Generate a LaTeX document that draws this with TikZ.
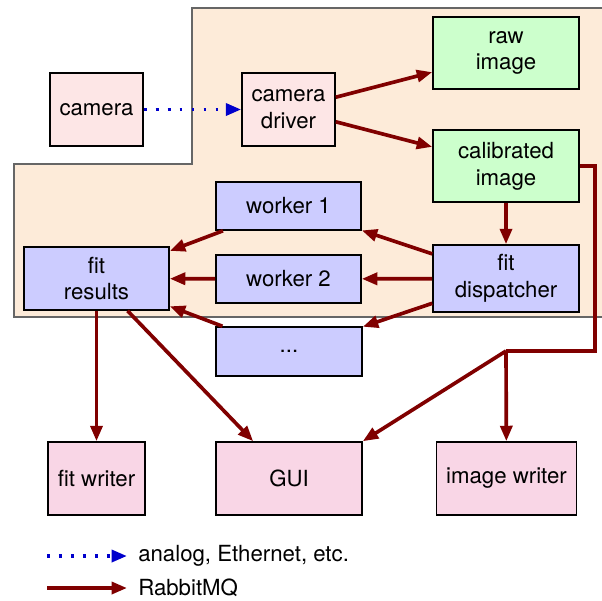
\documentclass[tikz,border=0pt]{standalone}
\usepackage{fontspec}
\setmainfont{TeX Gyre Heros}
\usetikzlibrary{arrows.meta}
\definecolor{mqred}{HTML}{800000}
\definecolor{analogblue}{HTML}{0000CC}
\definecolor{campink}{HTML}{FDE6E6}
\definecolor{outpink}{HTML}{F9D6E6}
\definecolor{imggreen}{HTML}{CCFFCC}
\definecolor{fitblue}{HTML}{CCCCFF}
\definecolor{hostbg}{HTML}{FDEBD9}
\tikzset{
  box/.style={draw, line width=1.1pt, align=center, inner sep=0pt,
    font=\fontsize{15.8}{19}\selectfont},
  hw/.style={box, fill=campink, minimum width=2.325cm, minimum height=1.825cm},
  img/.style={box, fill=imggreen, minimum width=3.65cm, minimum height=1.8cm},
  fitbox/.style={box, fill=fitblue, minimum width=3.625cm},
  sink/.style={box, fill=outpink, minimum height=1.825cm},
  mqline/.style={draw=mqred, line width=2.6pt},
  mq/.style={mqline, -{Triangle[length=11pt,width=8.5pt]}},
  analog/.style={draw=analogblue, line width=2.6pt, dash pattern=on 2pt off 6.5pt,
    -{Triangle[length=11pt,width=8.5pt]}},
  legend/.style={anchor=west, inner xsep=0.275cm, inner ysep=0pt,
    font=\fontsize{15.8}{19}\selectfont}
}
\begin{document}
\begin{tikzpicture}[x=0.025cm, y=-0.025cm]
\clip (0,0) rectangle (602,600);
% host machine
\draw[fill=hostbg, draw=black!60, line width=0.8pt]
  (192,8) -- (612,8) -- (612,317) -- (14,317) -- (14,164) -- (192,164) -- cycle;
\node[hw] (camera) at (96.5,109.5) {camera};
\node[hw] (driver) at (288.5,109.5) {camera\\driver};
\node[img] (raw) at (506,53) {raw\\image};
\node[img] (calib) at (506,166) {calibrated\\image};
\node[fitbox, minimum width=3.65cm, minimum height=1.675cm] (dispatcher) at (506,278.5) {fit\\dispatcher};
\node[fitbox, minimum height=1.2cm] (worker1) at (288.5,206) {worker 1};
\node[fitbox, minimum height=1.2cm] (worker2) at (288.5,279) {worker 2};
\node[fitbox, minimum width=3.65cm, minimum height=1.225cm] (workerN) at (289,351.5) {...};
\node[fitbox, minimum height=1.575cm] (results) at (96.5,278.5) {fit\\results};
\node[sink, minimum width=2.425cm] (fitwriter) at (96.5,478.5) {fit writer};
\node[sink, minimum width=3.65cm] (gui) at (289,478.5) {GUI};
\node[sink, minimum width=3.5cm] (imgwriter) at (506.5,478.5) {image writer};
\coordinate (turn) at (595,351);
\coordinate (split) at (506,351);
\draw[analog] (camera) -- (driver);
\draw[mq]  (driver) -- (raw);
\draw[mq]  (driver) -- (calib);
\draw[mq]  (calib) -- (dispatcher);
\draw[mq]  (dispatcher) -- (worker1);
\draw[mq]  (dispatcher) -- (worker2);
\draw[mq]  (dispatcher) -- (workerN);
\draw[mq]  (worker1) -- (results);
\draw[mq]  (worker2) -- (results);
\draw[mq]  (workerN) -- (results);
\draw[mq]  (results) -- (fitwriter);
\draw[mq]  (results) -- (gui);
\draw[mqline] (calib) -| (turn) -- (split);
\draw[mq]  (split) -- (imgwriter);
\draw[mq]  (split) -- (gui.north east);
% legend
\coordinate (analogstart) at (47,556);
\coordinate (mqstart) at (47,588);
\node[legend] (analogtext) at (127,556) {analog, Ethernet, etc.};
\node[legend] (mqtext) at (127,588) {RabbitMQ};
\draw[analog] (analogstart) -- (analogtext.west);
\draw[mq] (mqstart) -- (mqtext.west);
\end{tikzpicture}
\end{document}
